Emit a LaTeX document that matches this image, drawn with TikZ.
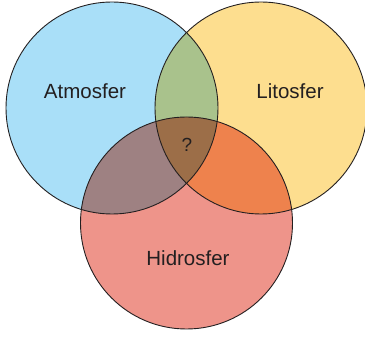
\documentclass[tikz,border=0pt]{standalone}
\usepackage{fontspec}
\setmainfont{Liberation Sans}
\definecolor{cblue}{HTML}{A9DFF8}
\definecolor{cyellow}{HTML}{FDDE8F}
\definecolor{cred}{HTML}{EE948A}
\definecolor{cgreen}{HTML}{A9C28C}
\definecolor{cmauve}{HTML}{9E8182}
\definecolor{corange}{HTML}{EE824D}
\definecolor{cbrown}{HTML}{9C6E48}
\definecolor{cline}{HTML}{231F20}
\begin{document}
\begin{tikzpicture}[x=1pt,y=1pt,
  outline/.style={draw=cline,line width=0.9pt},
  lbl/.style={font=\fontsize{20.5}{24}\selectfont,text=cline}]
\useasboundingbox (0,0) rectangle (365,337);
\def\R{106}
\coordinate (A) at (112,229);
\coordinate (L) at (261,229);
\coordinate (H) at (186.5,114);
\fill[cblue] (A) circle (\R);
\fill[cyellow] (L) circle (\R);
\fill[cred] (H) circle (\R);
\begin{scope}\clip (A) circle (\R); \fill[cgreen] (L) circle (\R);\end{scope}
\begin{scope}\clip (A) circle (\R); \fill[cmauve] (H) circle (\R);\end{scope}
\begin{scope}\clip (L) circle (\R); \fill[corange] (H) circle (\R);\end{scope}
\begin{scope}\clip (A) circle (\R); \clip (L) circle (\R); \fill[cbrown] (H) circle (\R);\end{scope}
\draw[outline] (A) circle (\R);
\draw[outline] (L) circle (\R);
\draw[outline] (H) circle (\R);
\node[lbl] (atm) at (85,246) {Atmosfer};
\node[lbl] (lit) at (290,246) {Litosfer};
\node[lbl] (hid) at (188,79) {Hidrosfer};
\node[font=\fontsize{19}{22}\selectfont,text=cline] (q) at (187,192) {?};
\end{tikzpicture}
\end{document}
